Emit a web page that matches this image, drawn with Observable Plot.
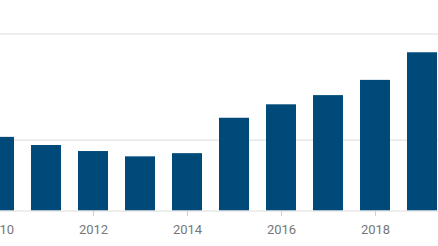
<!DOCTYPE html>
<html>
<head>
<meta charset="utf-8">
<script src="https://cdn.jsdelivr.net/npm/d3@7"></script>
<script src="https://cdn.jsdelivr.net/npm/@observablehq/plot@0.6"></script>
<style>
  html, body { margin: 0; padding: 0; background: #fff; }
  svg { display: block; }
</style>
</head>
<body>
<div id="chart"></div>
<script>
const years = [2010, 2011, 2012, 2013, 2014, 2015, 2016, 2017, 2018, 2019];
const values = [2.08, 1.85, 1.68, 1.53, 1.62, 2.62, 3.00, 3.26, 3.69, 4.47];
const gridValues = [2, 5];
const tickYears = [2010, 2012, 2014, 2016, 2018];

const data = years.map((y, i) => ({year: y, value: values[i]}));

const chart = Plot.plot({
  width: 438,
  height: 246,
  marginLeft: 0,
  marginRight: 0,
  marginTop: 0,
  marginBottom: 35,
  style: {fontFamily: "Roboto, sans-serif", fontSize: "13px", color: "#777", background: "#fff"},
  x: {type: "band", domain: years, range: [-34.6, 455.7], padding: 0.366, label: null},
  y: {domain: [0, 5], range: [210.5, 33.5], label: null, axis: null},
  marks: [
    Plot.ruleY(gridValues, {stroke: "#dcdcdc", strokeWidth: 1}),
    Plot.barY(data, {x: "year", y: "value", fill: "#004a79"}),
    Plot.ruleY([0], {stroke: "#dcdcdc", strokeWidth: 1}),
    Plot.axisX({ticks: tickYears, tickSize: 5, tickPadding: 8, stroke: "#d0d0d0", fill: "#777", tickFormat: d => String(d), label: null}),
  ]
});
document.getElementById("chart").appendChild(chart);
</script>
</body>
</html>
